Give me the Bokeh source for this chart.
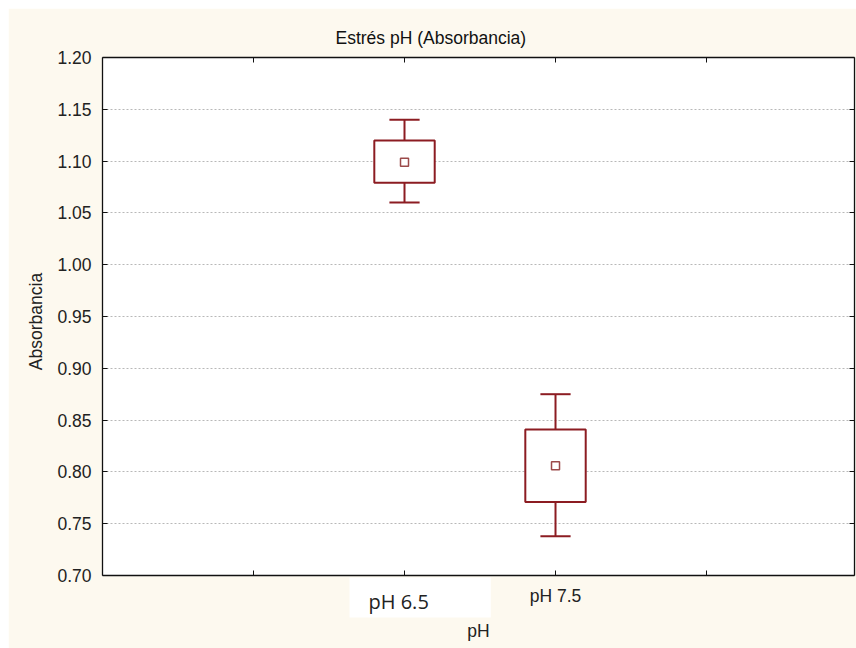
import math
from bokeh.plotting import figure
from bokeh.models import (Range1d, LinearAxis, FixedTicker, PrintfTickFormatter,
                          CustomJSTickFormatter, Label)
from bokeh.embed import file_html
from bokeh.resources import INLINE

# ---- data ----
groups = ["pH 6.5", "pH 7.5"]
positions = [1, 2]
means = [1.099, 0.806]
box_low = [1.079, 0.771]
box_high = [1.120, 0.841]
whisk_low = [1.060, 0.738]
whisk_high = [1.140, 0.875]
y_ticks = [0.70, 0.75, 0.80, 0.85, 0.90, 0.95, 1.00, 1.05, 1.10, 1.15, 1.20]
x_ticks = [0, 1, 2, 3]
x_tick_labels = {0: "", 1: "", 2: "pH 7.5", 3: ""}
x_title = "pH"
y_title = "Absorbancia"
title = "Estrés pH (Absorbancia)"

RED = "#8c1c22"
CREAM = "#fdf9ef"
FONT = "Liberation Sans"
FS = "17.5px"
BOX_HALF = 0.2
CAP_HALF = 0.1

x_range = Range1d(-1, 3.98)
y_range = Range1d(0.70, 1.20)

p = figure(width=848, height=640, output_backend="svg", toolbar_location=None,
           x_range=x_range, y_range=y_range,
           min_border_left=94, min_border_right=2, min_border_top=49, min_border_bottom=73,
           background_fill_color="white", border_fill_color=CREAM, outline_line_color=None,
           margin=(8, 0, 0, 8))

# title
p.title.text = title
p.title.text_font = FONT
p.title.text_font_size = FS
p.title.text_font_style = "normal"
p.title.text_color = "#111111"
p.title.align = "left"
p.title.offset = 233
p.title.standoff = 19

# axes
p.xaxis.ticker = FixedTicker(ticks=x_ticks)
p.xaxis.major_label_overrides = x_tick_labels
p.yaxis.ticker = FixedTicker(ticks=y_ticks)
p.yaxis.formatter = PrintfTickFormatter(format="%.2f")
for ax in (p.xaxis[0], p.yaxis[0]):
    ax.major_tick_in = 5
    ax.major_tick_out = 0
    ax.minor_tick_line_color = None
    ax.axis_line_color = "#111111"
    ax.axis_line_width = 1.3
    ax.major_tick_line_color = "#111111"
    ax.major_label_text_font = FONT
    ax.major_label_text_font_size = FS
    ax.major_label_text_color = "#222222"
p.yaxis.major_label_standoff = 11
p.xaxis.major_label_standoff = 10

for loc, ticks in (("above", x_ticks), ("right", y_ticks)):
    ax = LinearAxis(ticker=FixedTicker(ticks=ticks),
                    formatter=CustomJSTickFormatter(code="return ''"),
                    major_tick_in=5, major_tick_out=0, minor_tick_line_color=None,
                    axis_line_color="#111111", axis_line_width=1.3,
                    major_tick_line_color="#111111", major_label_standoff=0)
    p.add_layout(ax, loc)

# grid
p.xgrid.visible = False
p.ygrid.ticker = FixedTicker(ticks=y_ticks)
p.ygrid.grid_line_color = "#b8b8b8"
p.ygrid.grid_line_dash = "2 2"
p.ygrid.grid_line_width = 1

# boxes
left = [x - BOX_HALF for x in positions]
right = [x + BOX_HALF for x in positions]
cap_l = [x - CAP_HALF for x in positions]
cap_r = [x + CAP_HALF for x in positions]

p.segment(x0=positions, y0=box_high, x1=positions, y1=whisk_high, line_color=RED, line_width=2)
p.segment(x0=positions, y0=box_low, x1=positions, y1=whisk_low, line_color=RED, line_width=2)
p.segment(x0=cap_l, y0=whisk_high, x1=cap_r, y1=whisk_high, line_color=RED, line_width=2)
p.segment(x0=cap_l, y0=whisk_low, x1=cap_r, y1=whisk_low, line_color=RED, line_width=2)
p.quad(left=left, right=right, bottom=box_low, top=box_high,
       fill_color="white", line_color=RED, line_width=2)
p.scatter(x=positions, y=means, marker="square", size=8, fill_color="white",
          line_color="#9b4a4a", line_width=1.5)

# axis titles as labels in the left side panel (side-panel labels are not clipped)
x_mid = (x_range.start + x_range.end) / 2
y_mid = (y_range.start + y_range.end) / 2
xlab = Label(x=x_mid, y=y_range.start, text=x_title, text_font=FONT, text_font_size=FS,
             text_color="#222222", text_align="center", text_baseline="top", y_offset=-45)
p.add_layout(xlab, "left")
ylab = Label(x=x_range.start, y=y_mid, text=y_title, text_font=FONT, text_font_size=FS,
             text_color="#222222", text_align="center", text_baseline="middle",
             angle=math.pi / 2, x_offset=-67, y_offset=-5)
p.add_layout(ylab, "left")

# pasted white label for the first category
lab = Label(x=positions[0], y=y_range.start, text=groups[0],
            text_font="Open Sans", text_font_size="20px", text_color="#222222",
            text_align="left", text_baseline="top", x_offset=-55, y_offset=-2,
            background_fill_color="white",
            padding=(19, 62, 10, 3))
p.add_layout(lab, "below")

open("out.html", "w").write(file_html(p, INLINE))
